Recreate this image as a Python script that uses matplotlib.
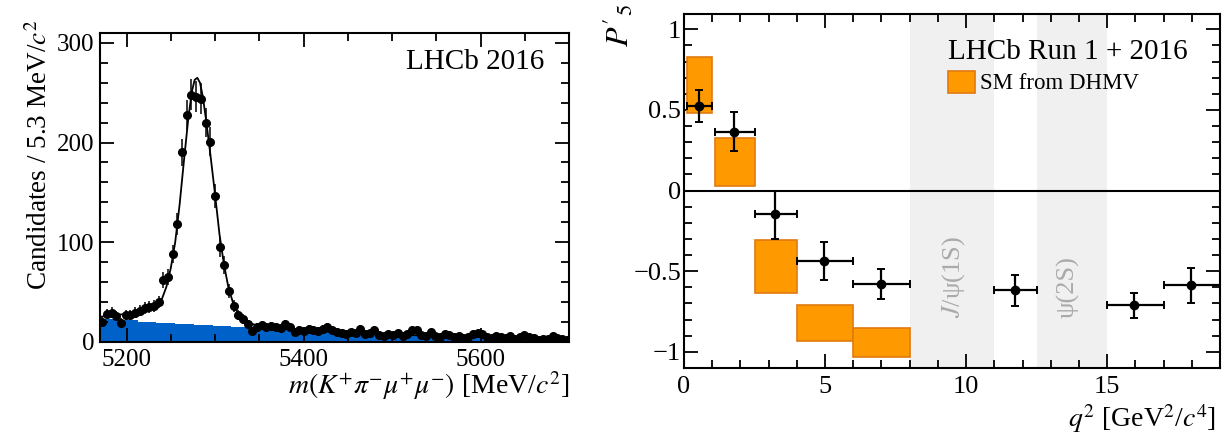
import numpy as np
import matplotlib
matplotlib.use("Agg")
import matplotlib.pyplot as plt
from matplotlib.patches import Rectangle
from matplotlib.ticker import MultipleLocator

plt.rcParams['font.family'] = ['Liberation Serif', 'DejaVu Serif']
plt.rcParams['mathtext.fontset'] = 'stix'

# ---------------- Left panel data ----------------
mass_lo, mass_hi, n_bins = 5170.0, 5700.0, 100
counts = [20, 28, 29, 26, 19, 27, 27, 29, 31, 34, 35, 36, 40, 62, 65, 88, 118, 190, 228, 248,
          246, 244, 220, 201, 146, 95, 77, 51, 36, 27, 23, 18, 11, 15,
          17, 15, 16, 15, 14, 18, 15, 10, 12, 11, 13, 12, 11, 13, 15, 12, 10, 9, 8, 10, 9, 13,
          8, 9, 12, 7, 6, 8, 7, 9, 6, 8, 12, 12, 7, 6, 10, 6, 5, 8, 7, 5, 6, 4, 5, 8, 9, 8,
          5, 4, 6, 5, 4, 6, 3, 5, 7, 5, 4, 2, 3, 3, 6, 4, 3, 2]

fit_mass = [5170, 5180, 5190, 5200, 5210, 5220, 5230, 5236, 5240, 5245, 5250, 5255, 5260, 5265,
            5270, 5274, 5277, 5280, 5283, 5286, 5290, 5295, 5300, 5305, 5310, 5315, 5320, 5325,
            5330, 5340, 5350, 5375, 5400, 5450, 5500, 5550, 5600, 5650, 5700]
fit_vals = [25, 26, 27, 28, 29.5, 31, 34, 37, 43, 55, 74, 100, 138, 183, 226, 252, 263, 265,
            260, 247, 222, 186, 148, 108, 78, 55, 40, 30, 24, 18.5, 15.5, 13, 11.5, 9, 7.3,
            5.8, 4.6, 3.6, 2.8]

bkg_vals = [23, 21.5, 20, 19, 18, 16.5, 15.5, 14.5, 13.5, 12.5, 11.5, 10.5, 9.7, 8.9, 8.2,
            7.5, 6.9, 6.3, 5.8, 5.3, 4.8, 4.4, 4.0, 3.6, 3.3]

# ---------------- Right panel data ----------------
q2_lo = [0.1, 1.1, 2.5, 4.0, 6.0, 11.0, 15.0, 17.0]
q2_hi = [0.98, 2.5, 4.0, 6.0, 8.0, 12.5, 17.0, 19.0]
q2_mean = [0.53, 1.79, 3.24, 4.97, 6.97, 11.72, 15.96, 17.97]
p5 = [0.525, 0.366, -0.146, -0.434, -0.58, -0.615, -0.71, -0.586]
p5_err_up = [0.10, 0.124, 0.146, 0.118, 0.095, 0.091, 0.078, 0.105]
p5_err_dn = [0.10, 0.118, 0.155, 0.119, 0.093, 0.098, 0.083, 0.108]

sm_lo = [0.1, 1.1, 2.5, 4.0, 6.0]
sm_hi = [0.98, 2.5, 4.0, 6.0, 8.0]
sm_min = [0.483, 0.03, -0.637, -0.932, -1.03]
sm_max = [0.83, 0.328, -0.306, -0.711, -0.85]

veto_bands = [(8.0, 11.0), (12.5, 15.0)]

# ---------------- Figure ----------------
W, H = 1223, 434
fig = plt.figure(figsize=(W / 100, H / 100), dpi=100)

def style_axes(ax, fs):
    ax.tick_params(which='both', direction='in', top=True, right=True, labelsize=fs,
                   width=1.3, colors='black')
    ax.tick_params(which='major', length=10)
    ax.tick_params(which='minor', length=5.5)
    for s in ax.spines.values():
        s.set_linewidth(1.5)

# Left panel
axL = fig.add_axes([100 / W, 1 - 341.7 / H, 469 / W, 308.7 / H])
edges = np.linspace(mass_lo, mass_hi, n_bins + 1)
centers = 0.5 * (edges[:-1] + edges[1:])
bkg_edges = np.linspace(mass_lo, mass_hi, len(bkg_vals) + 1)
axL.stairs(bkg_vals, bkg_edges, fill=True, color='#0062c8', zorder=1)
axL.plot(fit_mass, fit_vals, color='black', lw=1.3, zorder=3)
cnt = np.array(counts, dtype=float)
axL.errorbar(centers, cnt, yerr=np.sqrt(cnt), xerr=(edges[1] - edges[0]) / 2, fmt='o',
             color='black', ms=5.5, elinewidth=1.1, capsize=0, zorder=4)
axL.set_xlim(mass_lo, mass_hi)
axL.set_ylim(0, 310)
axL.set_xticks([5200, 5400, 5600])
axL.set_yticks([0, 100, 200, 300])
axL.xaxis.set_minor_locator(MultipleLocator(50))
axL.yaxis.set_minor_locator(MultipleLocator(20))
style_axes(axL, 18)
axL.tick_params(axis='x', which='major', pad=5)
axL.tick_params(axis='y', which='major', pad=4)
axL.text(0.652, 0.906, 'LHCb 2016', transform=axL.transAxes, fontsize=21,
         ha='left', va='center')
fig.text(40 / W, 1 - 20 / H, r'Candidates / 5.3 MeV/$c^{2}$', rotation=90,
         ha='center', va='top', fontsize=19.5)
fig.text(569 / W, 1 - 386 / H, r'$m(K^{+}\pi^{-}\mu^{+}\mu^{-})$ [MeV/$c^{2}$]',
         ha='right', va='center', fontsize=20)

# Right panel
axR = fig.add_axes([684 / W, 1 - 368 / H, 536 / W, 354 / H])
for lo, hi in veto_bands:
    axR.axvspan(lo, hi, color='#f0f0f0', lw=0, zorder=0)
for lo, hi, mn, mx in zip(sm_lo, sm_hi, sm_min, sm_max):
    axR.add_patch(Rectangle((lo, mn), hi - lo, mx - mn, facecolor='#ff9900',
                            edgecolor='#e07a10', lw=1.2, zorder=2))
axR.axhline(0, color='black', lw=1.5, zorder=3)
xm = np.array(q2_mean)
axR.errorbar(xm, p5, yerr=[p5_err_dn, p5_err_up],
             xerr=[xm - np.array(q2_lo), np.array(q2_hi) - xm], fmt='o', color='black',
             ms=6, elinewidth=1.6, capsize=3, capthick=1.4, zorder=4)
axR.set_xlim(0, 19)
axR.set_ylim(-1.1, 1.095)
axR.set_xticks([0, 5, 10, 15])
axR.set_yticks([-1, -0.5, 0, 0.5, 1])
axR.set_yticklabels(['\u22121', '\u22120.5', '0', '0.5', '1'])
axR.xaxis.set_minor_locator(MultipleLocator(1))
axR.yaxis.set_minor_locator(MultipleLocator(0.1))
style_axes(axR, 19)
axR.tick_params(axis='x', which='major', pad=6)
axR.tick_params(axis='y', which='major', pad=2)
axR.text(9.54, -0.535, r'$J$/ψ(1S)', rotation=90, ha='center', va='center',
         fontsize=19, color='#aaaaaa', zorder=1)
axR.text(13.6, -0.597, 'ψ(2S)', rotation=90, ha='center', va='center',
         fontsize=19, color='#aaaaaa', zorder=1)
axR.text(0.4925, 0.893, 'LHCb Run 1 + 2016', transform=axR.transAxes, fontsize=21,
         ha='left', va='center')
axR.add_patch(Rectangle((0.4925, 0.777), 0.0505, 0.062, transform=axR.transAxes,
                        facecolor='#ff9900', edgecolor='#e07a10', lw=1.2, zorder=5))
axR.text(0.552, 0.805, 'SM from DHMV', transform=axR.transAxes, fontsize=16.5,
         ha='left', va='center')
fig.text(618 / W, 1 - 4 / H, r"$P'_{5}$", rotation=90, ha='center', va='top', fontsize=23)
fig.text(1216 / W, 1 - 419 / H, r'$q^{2}$ [GeV$^{2}$/$c^{4}$]', ha='right', va='center',
         fontsize=20)

fig.savefig('out.png', dpi=100)
